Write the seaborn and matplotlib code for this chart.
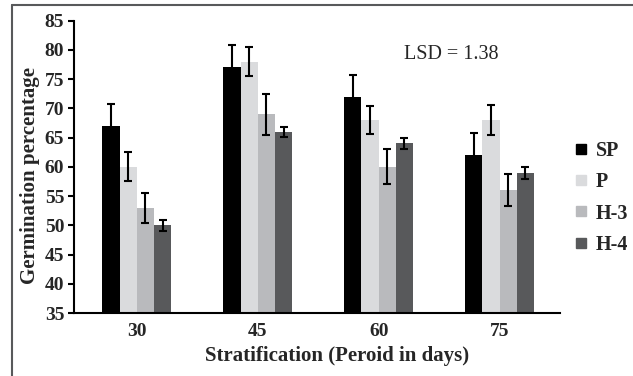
import matplotlib
matplotlib.use("Agg")
import matplotlib.pyplot as plt
import seaborn as sns
import pandas as pd
import numpy as np
from matplotlib.lines import Line2D

periods = ["30", "45", "60", "75"]
varieties = ["SP", "P", "H-3", "H-4"]
sp_vals = [67, 77, 72, 62]
p_vals = [60, 78, 68, 68]
h3_vals = [53, 69, 60, 56]
h4_vals = [50, 66, 64, 59]
sp_err = [3.8, 3.8, 3.7, 3.8]
p_err = [2.5, 2.5, 2.4, 2.5]
h3_err = [2.6, 3.5, 3.0, 2.7]
h4_err = [0.9, 0.9, 1.0, 1.0]
colors = ["#000000", "#dadbdd", "#b9babd", "#58595b"]

vals = [sp_vals, p_vals, h3_vals, h4_vals]
errs = [sp_err, p_err, h3_err, h4_err]
rows = []
for v, vv, ee in zip(varieties, vals, errs):
    for per, y, e in zip(periods, vv, ee):
        rows.append({"period": per, "variety": v, "value": y, "err": e})
df = pd.DataFrame(rows)

sns.set_theme(style="white")
plt.rcParams["font.family"] = ["Liberation Serif", "DejaVu Serif"]

fig = plt.figure(figsize=(6.33, 3.76), dpi=100)
ax = fig.add_axes([74/633, 1-313/376, (560-74)/633, (313-20.7)/376])

sns.barplot(data=df, x="period", y="value", hue="variety", order=periods,
            hue_order=varieties, palette=colors, width=0.57, gap=0,
            errorbar=None, ax=ax, saturation=1, linewidth=0, legend=False)

# error bars at each bar center
for i, v in enumerate(varieties):
    cont = ax.containers[i]
    xs = [p.get_x() + p.get_width()/2 for p in cont.patches]
    sub = df[df.variety == v].set_index("period").loc[periods]
    ax.errorbar(xs, sub["value"].values, yerr=sub["err"].values, fmt="none",
                ecolor="black", elinewidth=1.5, capsize=3.2, capthick=1.5, zorder=5)

ax.set_ylim(35, 85)
ax.set_yticks(np.arange(35, 86, 5))
ax.set_xlim(-0.52, 3.5)
for s in ["top", "right"]:
    ax.spines[s].set_visible(False)
for s in ["left", "bottom"]:
    ax.spines[s].set_color("black")
    ax.spines[s].set_linewidth(1.5)
ax.tick_params(axis="y", which="both", left=True, length=4, width=1.5, color="black",
               labelsize=14, pad=3)
ax.tick_params(axis="x", bottom=False, labelsize=14, pad=1.5)
for lab in ax.get_xticklabels() + ax.get_yticklabels():
    lab.set_fontweight("bold")
ax.set_xlabel("Stratification (Peroid in days)", fontsize=15, fontweight="bold")
ax.xaxis.set_label_coords((337.5-74)/486, -0.113)
ax.set_ylabel("Germination percentage", fontsize=15, fontweight="bold")
ax.yaxis.set_label_coords(-0.07, (313-176)/292.3)

ax.text(0.777, 0.883, "LSD = 1.38", transform=ax.transAxes, ha="center", va="center",
        fontsize=14.5)

handles = [Line2D([], [], marker="s", linestyle="none", markersize=7,
                  markerfacecolor=c, markeredgecolor=c) for c in colors]
leg = fig.legend(handles, varieties, loc="center left",
                 bbox_to_anchor=(573/633, 1-198/376), bbox_transform=fig.transFigure,
                 frameon=False, prop={"weight": "bold", "size": 14.5},
                 borderpad=0, borderaxespad=0,
                 handletextpad=0.33, labelspacing=0.55, handlelength=0.8)

# figure border (top and left visible)
fig.add_artist(Line2D([12/633, 12/633], [0, 1-4.5/376], transform=fig.transFigure,
                      color="#58595b", linewidth=1.5))
fig.add_artist(Line2D([12/633, 1], [1-4.5/376, 1-4.5/376], transform=fig.transFigure,
                      color="#58595b", linewidth=1.5))

fig.savefig("out.png", dpi=100)
